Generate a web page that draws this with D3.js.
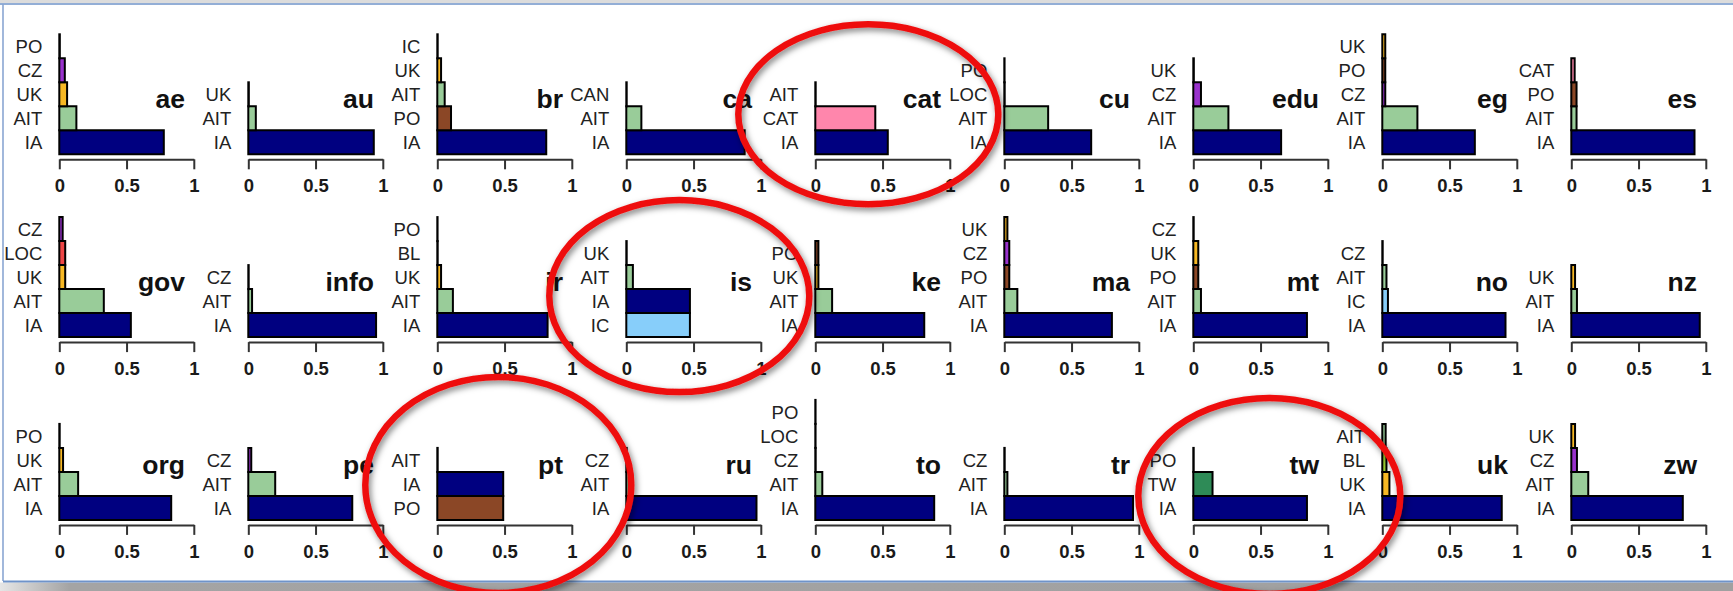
<!DOCTYPE html>
<html>
<head>
<meta charset="utf-8">
<script src="https://cdn.jsdelivr.net/npm/d3@7"></script>
<style>
html, body { margin: 0; padding: 0; background: #fff; }
svg { display: block; font-family: "Liberation Sans", Arial, sans-serif; }
</style>
</head>
<body>
<script>
// domains, in grid order (3 rows x 9 columns)
var panelNames = ['ae', 'au', 'br', 'ca', 'cat', 'cu', 'edu', 'eg', 'es',
    'gov', 'info', 'ir', 'is', 'ke', 'ma', 'mt', 'no', 'nz',
    'org', 'pe', 'pt', 'ru', 'to', 'tr', 'tw', 'uk', 'zw'];

// categories per panel, bottom bar first
var panelCats = [
    ['IA', 'AIT', 'UK', 'CZ', 'PO'],
    ['IA', 'AIT', 'UK'],
    ['IA', 'PO', 'AIT', 'UK', 'IC'],
    ['IA', 'AIT', 'CAN'],
    ['IA', 'CAT', 'AIT'],
    ['IA', 'AIT', 'LOC', 'PO'],
    ['IA', 'AIT', 'CZ', 'UK'],
    ['IA', 'AIT', 'CZ', 'PO', 'UK'],
    ['IA', 'AIT', 'PO', 'CAT'],
    ['IA', 'AIT', 'UK', 'LOC', 'CZ'],
    ['IA', 'AIT', 'CZ'],
    ['IA', 'AIT', 'UK', 'BL', 'PO'],
    ['IC', 'IA', 'AIT', 'UK'],
    ['IA', 'AIT', 'UK', 'PO'],
    ['IA', 'AIT', 'PO', 'CZ', 'UK'],
    ['IA', 'AIT', 'PO', 'UK', 'CZ'],
    ['IA', 'IC', 'AIT', 'CZ'],
    ['IA', 'AIT', 'UK'],
    ['IA', 'AIT', 'UK', 'PO'],
    ['IA', 'AIT', 'CZ'],
    ['PO', 'IA', 'AIT'],
    ['IA', 'AIT', 'CZ'],
    ['IA', 'AIT', 'CZ', 'LOC', 'PO'],
    ['IA', 'AIT', 'CZ'],
    ['IA', 'TW', 'PO'],
    ['IA', 'UK', 'BL', 'AIT'],
    ['IA', 'AIT', 'CZ', 'UK']
];

// share values per panel, same order as panelCats
var panelValues = [
    [0.777, 0.127, 0.058, 0.041, 0.004],
    [0.933, 0.056, 0.004],
    [0.81, 0.102, 0.055, 0.028, 0.003],
    [0.88, 0.112, 0.003],
    [0.539, 0.446, 0.003],
    [0.646, 0.326, 0.003, 0.002],
    [0.653, 0.261, 0.057, 0.004],
    [0.688, 0.261, 0.022, 0.022, 0.022],
    [0.916, 0.039, 0.039, 0.025],
    [0.532, 0.331, 0.044, 0.044, 0.025],
    [0.95, 0.028, 0.003],
    [0.82, 0.116, 0.028, 0.003, 0.002],
    [0.473, 0.473, 0.049, 0.003],
    [0.81, 0.125, 0.023, 0.023],
    [0.8, 0.097, 0.037, 0.037, 0.023],
    [0.845, 0.057, 0.037, 0.037, 0.003],
    [0.916, 0.042, 0.031, 0.003],
    [0.955, 0.042, 0.028],
    [0.832, 0.14, 0.028, 0.003],
    [0.773, 0.2, 0.022],
    [0.49, 0.49, 0.003],
    [0.968, 0.04, 0.003],
    [0.884, 0.052, 0.003, 0.002, 0.002],
    [0.957, 0.023, 0.003],
    [0.845, 0.143, 0.003],
    [0.888, 0.053, 0.031, 0.025],
    [0.829, 0.126, 0.042, 0.028]
];

var tickValues = [0, 0.5, 1];
var tickLabels = ['0', '0.5', '1'];

// circled panels
var circled = ['cat', 'is', 'pt', 'tw'];

var catColor = {
    IA: '#000080', AIT: '#99cc99', UK: '#f7b824', CZ: '#9932cc', PO: '#8b4726',
    CAT: '#ff86ac', LOC: '#ee4646', IC: '#87cefa', TW: '#2e8b57', BL: '#9acd32', CAN: '#cccccc'
};

var WIDTH = 1733, HEIGHT = 591;
var COLS = 9;
var COL0 = 59.3, COL_STEP = 189;
var AXIS0 = 159.3, ROW_STEP = 182.8;
var AXIS_W = 134.5, SLOT_H = 24, MAX_SLOTS = 5;

var svg = d3.select('body').append('svg')
    .attr('width', WIDTH)
    .attr('height', HEIGHT);

var defs = svg.append('defs');
defs.append('filter')
    .attr('id', 'shadow')
    .attr('x', '-20%').attr('y', '-20%').attr('width', '140%').attr('height', '140%')
    .append('feDropShadow')
    .attr('dx', 2).attr('dy', 3).attr('stdDeviation', 3)
    .attr('flood-color', '#000').attr('flood-opacity', 0.5);

var grad = defs.append('linearGradient').attr('id', 'bottomShade');
grad.append('stop').attr('offset', '0').attr('stop-color', '#e6e6e6');
grad.append('stop').attr('offset', '0.04').attr('stop-color', '#a4a4a4');
grad.append('stop').attr('offset', '1').attr('stop-color', '#a0a0a0');

// window frame
svg.append('rect').attr('x', 0).attr('y', 0).attr('width', WIDTH).attr('height', 3).attr('fill', '#dcdcdc');
svg.append('line').attr('x1', 0).attr('x2', WIDTH).attr('y1', 4).attr('y2', 4)
    .attr('stroke', '#6f93c9').attr('stroke-width', 1.6);
svg.append('line').attr('x1', 3).attr('x2', 3).attr('y1', 4).attr('y2', 581)
    .attr('stroke', '#8aa6d2').attr('stroke-width', 1.6);
svg.append('rect').attr('x', 0).attr('y', 582.5).attr('width', WIDTH).attr('height', HEIGHT - 582.5)
    .attr('fill', 'url(#bottomShade)');
svg.append('line').attr('x1', 3).attr('x2', WIDTH).attr('y1', 581.5).attr('y2', 581.5)
    .attr('stroke', '#6f93c9').attr('stroke-width', 1.8);

var drawPanel = function (name, i) {
    var col = i % COLS, row = Math.floor(i / COLS);
    var x0 = COL0 + col * COL_STEP;
    var axisY = AXIS0 + row * ROW_STEP;
    var cats = panelCats[i], vals = panelValues[i];

    var xScale = d3.scaleLinear().domain([0, 1]).range([x0, x0 + AXIS_W]);
    var yScale = d3.scaleLinear().domain([0, MAX_SLOTS])
        .range([axisY - 5, axisY - 5 - MAX_SLOTS * SLOT_H]);

    var g = svg.append('g').classed('panel', true);

    g.selectAll('path.bar')
        .data(cats)
        .enter()
        .append('path')
        .classed('bar', true)
        .attr('d', function (d, k) {
            return 'M' + xScale(0) + ',' + yScale(k) +
                'H' + xScale(vals[k]) +
                'V' + yScale(k + 1) +
                'H' + xScale(0) + 'Z';
        })
        .attr('fill', function (d) { return catColor[d]; })
        .attr('stroke', '#000')
        .attr('stroke-width', 2)
        .attr('stroke-linejoin', 'miter');

    g.selectAll('text.cat')
        .data(cats)
        .enter()
        .append('text')
        .classed('cat', true)
        .attr('x', xScale(0) - 17)
        .attr('y', function (d, k) { return (yScale(k) + yScale(k + 1)) / 2; })
        .attr('dy', '0.36em')
        .attr('text-anchor', 'end')
        .attr('font-size', 18.5)
        .attr('fill', '#222')
        .text(function (d) { return d; });

    g.append('text')
        .attr('x', xScale(0.935))
        .attr('y', axisY - 51)
        .attr('text-anchor', 'end')
        .attr('font-size', 26.5)
        .attr('font-weight', 'bold')
        .attr('fill', '#111')
        .text(name);

    var axis = d3.axisBottom(xScale)
        .tickValues(tickValues)
        .tickFormat(function (d, k) { return tickLabels[k]; })
        .tickSize(10)
        .tickSizeOuter(0)
        .tickPadding(10);

    var ax = g.append('g')
        .attr('transform', 'translate(0,' + axisY + ')')
        .call(axis);
    ax.select('.domain').attr('stroke', '#333').attr('stroke-width', 2);
    ax.selectAll('.tick line').attr('stroke', '#333').attr('stroke-width', 2);
    ax.selectAll('.tick text')
        .attr('font-size', 18.5)
        .attr('font-weight', 'bold')
        .attr('font-family', '"Liberation Sans", Arial, sans-serif')
        .attr('fill', '#1a1a1a');
};

panelNames.forEach(drawPanel);

// red rings, placed relative to the circled panel
var ringOffset = { cat: [53, -45, 130, 90], is: [53, -46, 130, 96], pt: [61, -40, 133, 108], tw: [76, -29, 131, 98] };
circled.forEach(function (name) {
    var i = panelNames.indexOf(name);
    var col = i % COLS, row = Math.floor(i / COLS);
    var o = ringOffset[name];
    svg.append('ellipse')
        .attr('cx', COL0 + col * COL_STEP + o[0])
        .attr('cy', AXIS0 + row * ROW_STEP + o[1])
        .attr('rx', o[2])
        .attr('ry', o[3])
        .attr('fill', 'none')
        .attr('stroke', '#ee1111')
        .attr('stroke-width', 6.5)
        .attr('filter', 'url(#shadow)');
});
</script>
</body>
</html>
